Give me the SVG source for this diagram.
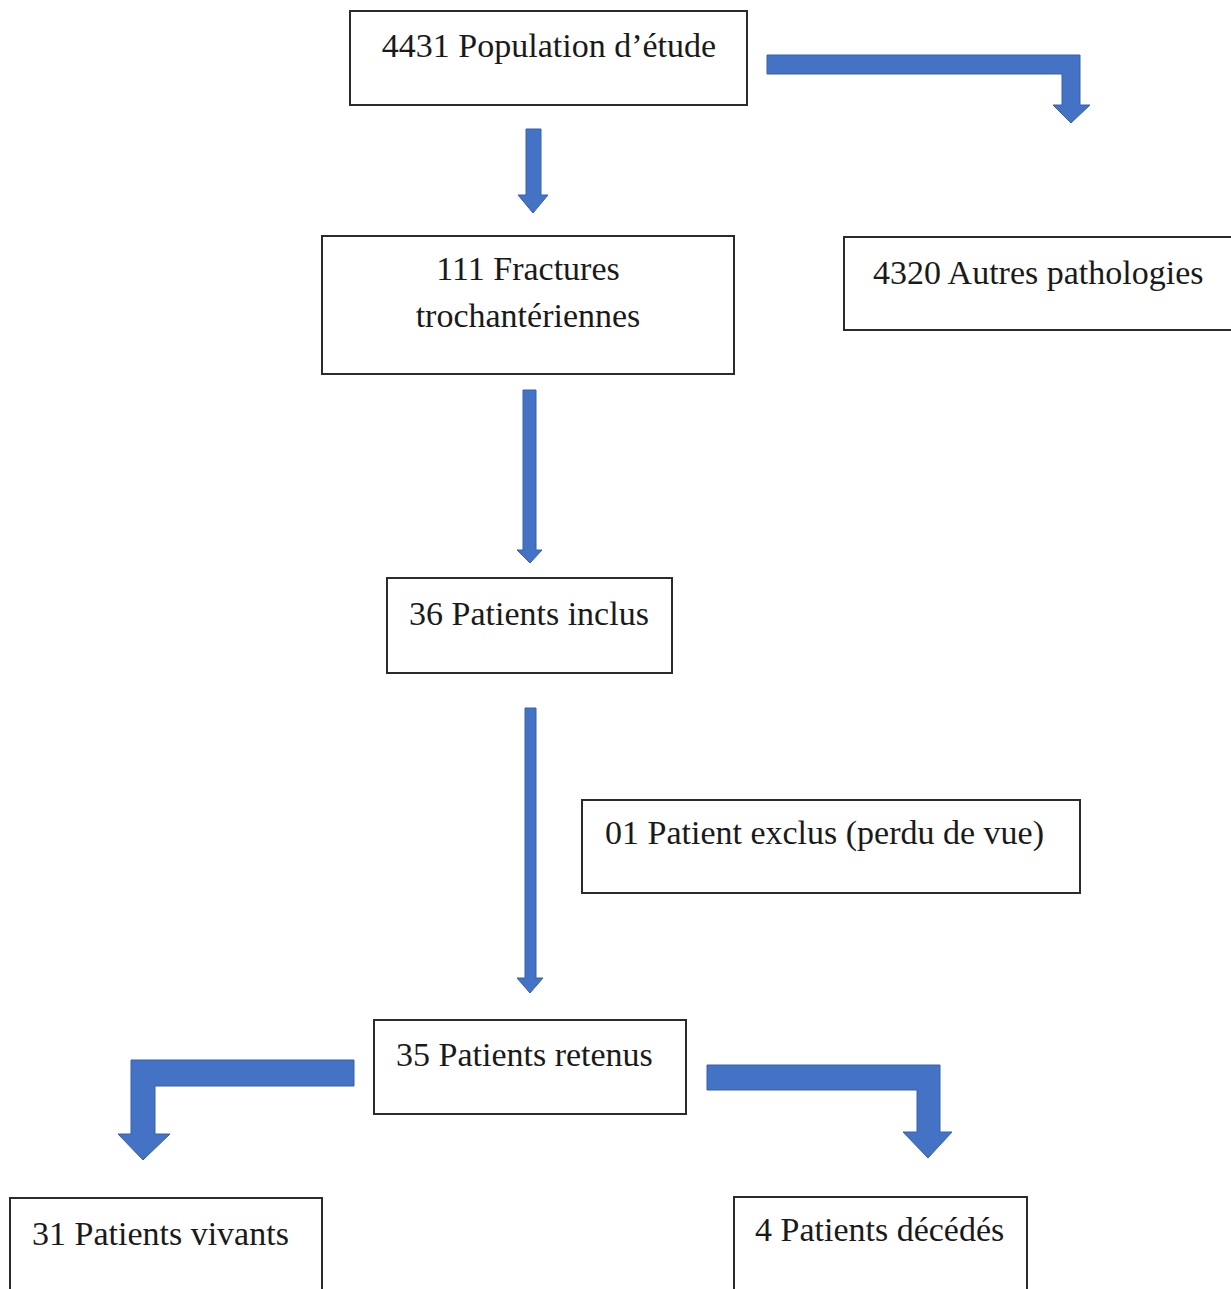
<svg xmlns="http://www.w3.org/2000/svg" width="1231" height="1289" viewBox="0 0 1231 1289">
  <style>
    .box { fill: #ffffff; stroke: #2b2b2b; stroke-width: 2; }
    .lbl { font-family: "Liberation Serif", "Times New Roman", serif; font-size: 34px; fill: #1a1a1a; }
    .mid { text-anchor: middle; }
    .arrow { fill: #4472C4; stroke: #3860a8; stroke-width: 1; stroke-linejoin: miter; }
  </style>
  <rect width="1231" height="1289" fill="#ffffff"/>

  <g id="connectors">
    <polygon class="arrow" points="767,55 1080,55 1080,105 1090,105 1071,123 1053,105 1062,105 1062,74 767,74"/>
    <polygon class="arrow" points="526,129 541,129 541,195 548,195 533,213 518,195 526,195"/>
    <polygon class="arrow" points="523,390 536,390 536,550 542,550 530,563 517,550 523,550"/>
    <polygon class="arrow" points="525,708 536,708 536,978 543,978 530,993 517,978 525,978"/>
    <polygon class="arrow" points="354,1060 131,1060 131,1134 118,1134 143,1160 170,1134 155,1134 155,1086 354,1086"/>
    <polygon class="arrow" points="707,1065 940,1065 940,1132 952,1132 928,1158 903,1132 917,1132 917,1090 707,1090"/>
  </g>

  <g id="node-population">
    <rect class="box" x="350" y="11" width="397" height="94"/>
    <text class="lbl mid" x="549" y="57">4431 Population d’étude</text>
  </g>
  <g id="node-fractures">
    <rect class="box" x="322" y="236" width="412" height="138"/>
    <text class="lbl mid" x="528" y="280">111 Fractures</text>
    <text class="lbl mid" x="528" y="327">trochantériennes</text>
  </g>
  <g id="node-autres">
    <rect class="box" x="844" y="237" width="400" height="93"/>
    <text class="lbl" x="873" y="284">4320 Autres pathologies</text>
  </g>
  <g id="node-inclus">
    <rect class="box" x="387" y="578" width="285" height="95"/>
    <text class="lbl" x="409" y="625">36 Patients inclus</text>
  </g>
  <g id="node-exclus">
    <rect class="box" x="582" y="800" width="498" height="93"/>
    <text class="lbl" x="605" y="844">01 Patient exclus (perdu de vue)</text>
  </g>
  <g id="node-retenus">
    <rect class="box" x="374" y="1020" width="312" height="94"/>
    <text class="lbl" x="396" y="1066">35 Patients retenus</text>
  </g>
  <g id="node-vivants">
    <rect class="box" x="10" y="1198" width="312" height="110"/>
    <text class="lbl" x="32" y="1245">31 Patients vivants</text>
  </g>
  <g id="node-decedes">
    <rect class="box" x="734" y="1197" width="293" height="110"/>
    <text class="lbl" x="755" y="1241">4 Patients décédés</text>
  </g>
</svg>
